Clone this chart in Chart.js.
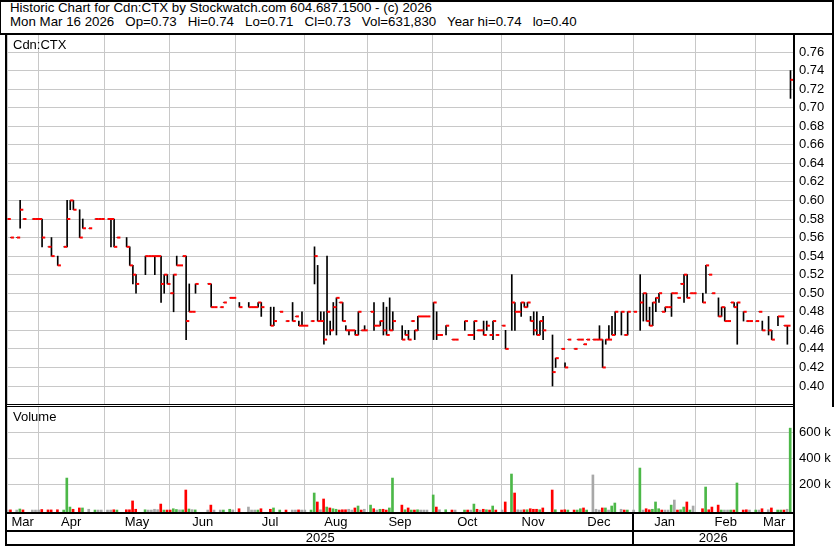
<!DOCTYPE html>
<html>
<head>
<meta charset="utf-8">
<script src="https://cdn.jsdelivr.net/npm/chart.js@4.4.1/dist/chart.umd.min.js"></script>
<style>
body { margin: 0; background: #fff; width: 840px; height: 548px; overflow: hidden; position: relative;
       font-family: "Liberation Sans", Arial, sans-serif; }
canvas { position: absolute; left: 0; }
.ln { position: absolute; background: #000; }
.tx { position: absolute; font-size: 13px; line-height: 15px; color: #000; white-space: pre; }
.hd { font-size: 13.3px; }
</style>
</head>
<body>
<canvas id="price" width="840" height="369" style="top:35px"></canvas>
<canvas id="volume" width="840" height="141" style="top:407px"></canvas>

<div class="tx hd" style="left:10px;top:0px">Historic Chart for Cdn:CTX by Stockwatch.com 604.687.1500 - (c) 2026</div>
<div class="tx hd" style="left:10px;top:14px">Mon Mar 16 2026   Op=0.73   Hi=0.74   Lo=0.71   Cl=0.73   Vol=631,830   Year hi=0.74   lo=0.40</div>
<div class="tx" style="left:13px;top:37px">Cdn:CTX</div>
<div class="tx" style="left:13px;top:409px">Volume</div>

<div class="ln" style="left:0;top:0;width:834px;height:2px"></div>
<div class="ln" style="left:0;top:0;width:1px;height:35px"></div>
<div class="ln" style="left:0;top:33px;width:834px;height:2px"></div>
<div class="ln" style="left:832px;top:0;width:2px;height:407px"></div>
<div class="ln" style="left:5px;top:33px;width:2px;height:513px"></div>
<div class="ln" style="left:793px;top:33px;width:2px;height:513px"></div>
<div class="ln" style="left:5px;top:404px;width:790px;height:1px"></div>
<div class="ln" style="left:5px;top:406px;width:790px;height:1px"></div>
<div class="ln" style="left:5px;top:512px;width:790px;height:2px"></div>
<div class="ln" style="left:5px;top:530px;width:790px;height:2px"></div>
<div class="ln" style="left:5px;top:544px;width:790px;height:2px"></div>
<div class="ln" style="left:632px;top:513px;width:2px;height:32px"></div>

<script>
Chart.defaults.font.family = '"Liberation Sans", Arial, sans-serif';
Chart.defaults.font.size = 13;
Chart.defaults.color = '#000';

// trading days, Mar 2025 .. Mar 16 2026 (one slot per day)
const N = 251;
const monthStart = [0, 10, 31, 52, 73, 95, 115, 136, 158, 178, 200, 220, 239];
const monthNames = ['Mar', 'Apr', 'May', 'Jun', 'Jul', 'Aug', 'Sep', 'Oct', 'Nov', 'Dec', 'Jan', 'Feb', 'Mar'];
const yearStart = [0, 200];
const yearNames = ['2025', '2026'];
const priceTicks = [0.40, 0.42, 0.44, 0.46, 0.48, 0.50, 0.52, 0.54, 0.56, 0.58, 0.60, 0.62, 0.64, 0.66, 0.68, 0.70, 0.72, 0.74, 0.76];
const volTicks = [200000, 400000, 600000];

const hi = [
  .58,.56,null,.56,.60,.58,null,null,.58,.58,
  .58,.58,null,.55,.56,null,.54,null,.55,.60,
  .60,.60,null,.59,.58,null,.57,null,.58,.58,
  .58,null,.58,.58,.58,.56,null,null,.56,.55,
  .53,.52,null,null,.54,.54,.54,.54,.54,.54,
  .52,.52,.50,.52,.54,.53,.54,.54,.51,.48,
  .51,null,null,null,.51,.51,.485,null,.485,.49,
  null,.495,.495,null,.49,null,null,.49,.485,.485,
  .49,.49,null,null,.485,.485,null,.48,null,.47,
  null,.49,.475,.47,.48,.465,null,.47,.55,.53,
  .48,.48,.54,.47,.49,.495,.49,.49,.465,.46,
  .46,.46,.48,.46,.465,null,.48,.49,.465,.47,
  .49,.485,.495,.48,null,null,.465,.46,.46,.47,
  .46,.475,.475,.475,.475,null,.49,.48,.455,null,
  .465,null,.45,.45,null,null,.47,.455,.455,.47,
  .46,.46,.47,.47,.455,.47,.455,null,.465,.46,
  null,.52,.49,.48,.49,.49,.49,.475,.48,.48,
  .47,.475,null,null,.455,.43,null,.44,.425,.45,
  null,.44,.45,.45,.445,.45,null,.45,.45,.465,
  .45,.45,.465,.475,.48,null,.48,.455,.48,null,
  .48,null,.52,.50,.50,.485,.49,.495,.50,.48,
  .485,.485,.50,.50,.495,.51,.52,.52,.50,.50,
  null,null,.50,.53,.52,.50,null,.495,.485,.485,
  .47,.49,.49,.49,null,.48,.47,.47,null,.47,
  .48,.47,null,.475,.46,null,.475,.475,.465,.465,.74
];
const lo = [
  .58,.56,null,.56,.57,.58,null,null,.58,.58,
  .58,.55,null,.55,.54,null,.53,null,.55,.55,
  .59,.59,null,.56,.57,null,.57,null,.58,.58,
  .58,null,.58,.55,.55,.56,null,null,.55,.53,
  .51,.50,null,null,.52,.54,.54,.52,.54,.49,
  .50,.51,.50,.48,.53,.53,.54,.45,.48,.48,
  .50,null,null,null,.51,.485,.485,null,.485,.49,
  null,.495,.495,null,.485,null,null,.485,.485,.485,
  .485,.475,null,null,.465,.465,null,.48,null,.47,
  null,.47,.475,.465,.465,.465,null,.47,.51,.47,
  .47,.445,.455,.455,.46,.455,.49,.47,.46,.455,
  .46,.455,.455,.46,.46,null,.48,.46,.465,.465,
  .455,.455,.46,.46,null,null,.45,.455,.45,.47,
  .45,.46,.475,.475,.475,null,.45,.45,.455,null,
  .455,null,.45,.45,null,null,.46,.455,.455,.45,
  .46,.46,.455,.46,.455,.45,.455,null,.465,.44,
  null,.46,.46,.48,.475,.485,.485,.47,.455,.455,
  .455,.45,null,null,.40,.42,null,.44,.42,.45,
  null,.44,.45,.45,.445,.45,null,.45,.45,.45,
  .42,.445,.45,.455,.455,null,.455,.455,.455,null,
  .48,null,.46,.47,.47,.465,.465,.48,.49,.48,
  .48,.485,.475,.50,.495,.51,.49,.495,.50,.50,
  null,null,.49,.50,.52,.50,null,.475,.475,.47,
  .47,.49,.485,.445,null,.47,.47,.47,null,.47,
  .48,.46,null,.455,.45,null,.465,.475,.465,.445,.71
];
const cl = [
  .58,.56,null,.56,.59,.58,null,null,.58,.58,
  .58,.56,null,.55,.54,null,.53,null,.55,.58,
  .60,.59,null,.56,.57,null,.57,null,.58,.58,
  .58,null,.58,.58,.55,.56,null,null,.55,.53,
  .52,.51,null,null,.54,.54,.54,.54,.54,.51,
  .52,.51,.50,.52,.53,.53,.54,.47,.48,.48,
  .51,null,null,null,.51,.485,.485,null,.485,.49,
  null,.495,.495,null,.485,null,null,.485,.485,.485,
  .49,.485,null,null,.465,.47,null,.48,null,.47,
  null,.47,.475,.465,.465,.465,null,.47,.54,.47,
  .47,.45,.48,.46,.485,.495,.49,.47,.46,.46,
  .46,.455,.48,.46,.46,null,.48,.465,.465,.47,
  .46,.455,.46,.47,null,null,.45,.455,.45,.47,
  .46,.475,.475,.475,.475,null,.49,.455,.455,null,
  .465,null,.45,.45,null,null,.47,.455,.455,.47,
  .46,.46,.455,.465,.455,.47,.455,null,.465,.44,
  null,.49,.48,.48,.49,.485,.49,.47,.46,.455,
  .47,.46,null,null,.415,.43,null,.44,.42,.45,
  null,.44,.45,.45,.445,.45,null,.45,.45,.45,
  .42,.45,.45,.455,.48,null,.48,.455,.48,null,
  .48,null,.49,.50,.47,.465,.49,.495,.50,.48,
  .485,.485,.50,.50,.495,.51,.52,.495,.50,.50,
  null,null,.49,.53,.52,.50,null,.475,.485,.47,
  .47,.49,.485,.49,null,.48,.47,.47,null,.47,
  .48,.46,null,.46,.45,null,.475,.475,.465,.465,.73
];
// volume in thousands of shares
const vol = [
  2,3,null,2,10,3,null,null,2,2,
  2,6,null,3,3,null,4,null,2,248,
  25,8,null,18,18,null,8,null,2,2,
  2,null,2,2,4,2,null,null,4,4,
  72,8,null,null,4,2,2,8,5,48,
  2,2,2,12,6,3,3,156,10,5,
  3,null,null,null,2,40,2,null,2,2,
  null,8,3,null,12,null,null,25,2,2,
  2,12,null,null,8,18,null,2,null,2,
  null,2,2,3,2,2,null,2,133,64,
  4,87,25,18,12,8,2,4,4,8,
  2,18,33,2,8,null,40,12,2,8,
  8,2,18,248,null,null,40,4,18,2,
  2,4,2,2,2,null,118,25,4,null,
  4,null,2,2,null,null,2,2,2,48,
  8,2,8,4,2,33,2,null,2,64,
  null,279,133,4,2,4,4,12,8,8,
  4,18,null,null,156,4,null,2,4,2,
  null,2,2,12,18,2,null,272,8,2,
  18,18,2,33,56,null,8,2,2,null,
  2,null,325,2,12,4,8,64,12,2,
  2,2,40,79,2,4,25,64,2,33,
  null,null,12,179,4,25,null,40,2,2,
  2,2,2,210,null,2,4,2,null,2,
  2,12,null,4,18,null,2,2,2,8,632
];
// u = up day, d = down day, n = unchanged
const volDir = (
  'nd-nud--nn' + 'nd-dd-d-uu' + 'ud-du-n-un' + 'n-nndu--dd' + 'dd--unnnnd' +
  'udduunudun' + 'u---ndn-nu' + '-un-d--nnn' + 'ud--du-u-d' + '-nndnn-uud' +
  'nduduudddn' + 'ndudn-udnu' + 'dduu--dudu' + 'dunnn-udn-' + 'u-dn--udnu' +
  'dndudud-nd' + '-udnnduddd' + 'ud--du-ddu' + '-duudu-nnn' + 'dunuu-ndu-' +
  'n-undduuud' + 'nnunduudun' + '--dudd-dun' + 'nudu-ddn-u' + 'nd-nd-uudnu'
).split('');

const dirColor = { u: '#4cb848', d: '#ff0000', n: '#a8a8a8' };
const gridColor = '#c8c8c8';

const rangePts = [], closePts = [], volPts = [], volColors = [];
for (let i = 0; i < N; i++) {
  if (hi[i] != null) {
    rangePts.push({ x: i + 0.2, y: [lo[i], hi[i]] });
    closePts.push({ x: i + 0.7, y: cl[i] });
  }
  if (vol[i] != null) {
    volPts.push({ x: i + 0.1, y: vol[i] * 1000 });
    volColors.push(dirColor[volDir[i]]);
  }
}

const mids = (starts) => starts.map((s, k) => (s + (k + 1 < starts.length ? starts[k + 1] : N)) / 2);
const monthMid = mids(monthStart);
const yearMid = mids(yearStart);

// no label overhang padding, so the plot fills its box
const noPad = s => { s.paddingTop = 0; s.paddingBottom = 0; s.paddingLeft = 0; s.paddingRight = 0; };

// set the value range so two tick values sit on the wanted canvas rows
function pinAxis(chart, id, v1, y1, v2, y2, withBase) {
  const a = chart.chartArea;
  const k = (y2 - y1) / (v1 - v2);
  const sc = chart.options.scales[id];
  sc.max = v1 + (y1 - a.top) / k;
  sc.min = v2 - (a.bottom - y2) / k;
  if (withBase) chart.data.datasets[0].base = sc.min;
  chart.update();
}

const monthGrid = {
  type: 'linear', min: 0, max: N, offset: false,
  afterBuildTicks: s => { s.ticks = monthStart.map(v => ({ value: v })); },
  afterFit: s => { s.height = 0; noPad(s); },
  ticks: { display: false },
  grid: { color: gridColor, lineWidth: 1, drawTicks: false, offset: false },
  border: { display: false }
};

const priceChart = new Chart(document.getElementById('price').getContext('2d'), {
  type: 'bar',
  data: {
    datasets: [
      {
        type: 'line', data: closePts, showLine: false, order: 0,
        pointStyle: 'line', pointRadius: 1.6, pointBorderWidth: 2,
        pointBorderColor: '#ff0000', borderColor: '#ff0000', pointBackgroundColor: '#ff0000'
      },
      {
        type: 'bar', data: rangePts, order: 1,
        backgroundColor: '#000', barThickness: 1
      }
    ]
  },
  options: {
    responsive: false, animation: false, devicePixelRatio: 1, events: [],
    layout: { autoPadding: false, padding: { left: 7, right: 7, top: 0, bottom: 0 } },
    plugins: { legend: { display: false }, tooltip: { enabled: false } },
    scales: {
      x: monthGrid,
      y: {
        position: 'right', min: 0.3806, max: 0.7783,
        afterBuildTicks: s => { s.ticks = priceTicks.map(v => ({ value: v })); },
        afterFit: s => { s.width = 40; noPad(s); },
        ticks: { padding: 6, callback: v => v.toFixed(2) },
        grid: { color: gridColor, drawTicks: false },
        border: { display: false }
      }
    }
  }
});
pinAxis(priceChart, 'y', 0.76, 17, 0.40, 351, false);

const volumeChart = new Chart(document.getElementById('volume').getContext('2d'), {
  type: 'bar',
  data: {
    datasets: [{
      data: volPts, backgroundColor: volColors, barThickness: 2, base: -20000
    }]
  },
  options: {
    responsive: false, animation: false, devicePixelRatio: 1, events: [],
    layout: { autoPadding: false, padding: { left: 7, right: 7, top: 0, bottom: 2 } },
    plugins: { legend: { display: false }, tooltip: { enabled: false } },
    scales: {
      x: monthGrid,
      xm: {
        type: 'linear', position: 'bottom', min: 0, max: N, offset: false, weight: 1,
        afterBuildTicks: s => { s.ticks = monthMid.map(v => ({ value: v })); },
        afterFit: s => { s.height = 17; noPad(s); },
        ticks: { autoSkip: false, maxRotation: 0, padding: 2, callback: (v, i) => monthNames[i] },
        grid: { display: false, drawTicks: false },
        border: { display: false }
      },
      xy: {
        type: 'linear', position: 'bottom', min: 0, max: N, offset: false, weight: 2,
        afterBuildTicks: s => { s.ticks = yearMid.map(v => ({ value: v })); },
        afterFit: s => { s.height = 16; noPad(s); },
        ticks: { autoSkip: false, maxRotation: 0, padding: 1, callback: (v, i) => yearNames[i] },
        grid: { display: false, drawTicks: false },
        border: { display: false }
      },
      y: {
        position: 'right', min: -20000, max: 800000,
        afterBuildTicks: s => { s.ticks = volTicks.map(v => ({ value: v })); },
        afterFit: s => { s.width = 40; noPad(s); },
        ticks: { padding: 6, callback: v => (v / 1000) + ' k' },
        grid: { color: gridColor, drawTicks: false },
        border: { display: false }
      }
    }
  }
});
pinAxis(volumeChart, 'y', 600000, 25.3, 200000, 77.3, true);
</script>
</body>
</html>
